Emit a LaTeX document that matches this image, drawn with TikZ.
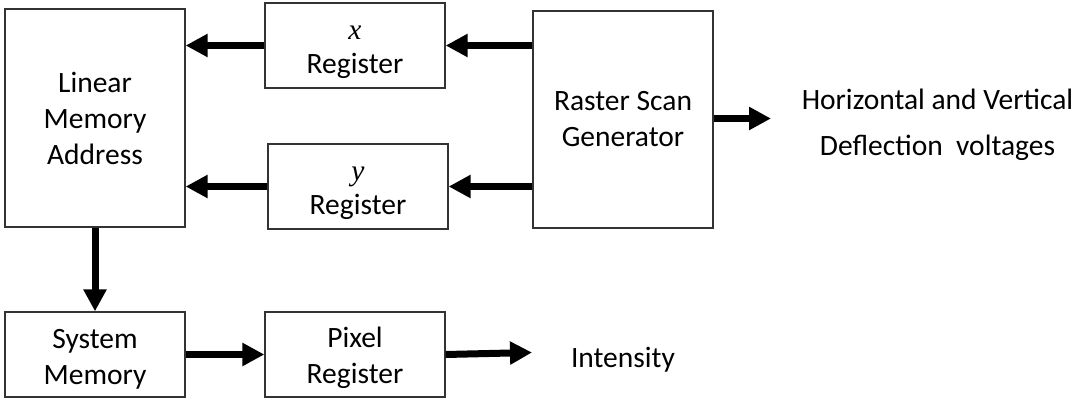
\documentclass[tikz,border=0pt]{standalone}
\usepackage{fontspec}
\setmainfont{Carlito}
\newfontfamily\varfont{Liberation Serif}
\usetikzlibrary{arrows.meta}
\newcommand{\var}[1]{{\varfont\itshape #1}}
\begin{document}
\begin{tikzpicture}[x=1pt,y=1pt,
  blk/.style={draw=black!80, line width=1.3pt, fill=white, rectangle, inner sep=0pt,
    minimum width=180pt, align=center, font=\fontsize{29.5}{36}\selectfont},
  arr/.style={line width=7pt, -{Triangle[length=22pt,width=22pt]}},
  lbl/.style={align=center, inner sep=0pt}]
\useasboundingbox (0,0) rectangle (1077,-402);
\node[blk, minimum height=218pt] (lma) at (95,-118) {Linear\\Memory\\Address};
\node[blk, minimum height=85pt] (xreg) at (355,-45.5) {\rule{0pt}{28pt}\var{x}\\[-2pt]Register};
\node[blk, minimum height=85pt] (yreg) at (358,-186.5) {\rule{0pt}{28pt}\var{y}\\[-2pt]Register};
\node[blk, minimum height=217pt] (raster) at (623,-119.5) {Raster Scan\\Generator};
\node[blk, minimum height=85pt] (sysmem) at (95,-354.5) {\rule{0pt}{28pt}System\\Memory};
\node[blk, minimum height=85pt] (pixreg) at (355,-354.5) {\rule{0pt}{28pt}Pixel\\Register};
\node[lbl, font=\fontsize{29.5}{46}\selectfont] (defl) at (937.5,-125) {Horizontal and Vertical\\Deflection\ \ voltages};
\node[lbl, font=\fontsize{29.5}{36}\selectfont] (inten) at (623,-360) {Intensity};
\coordinate (rasterend) at (771,-118.5);
\coordinate (intenend) at (532,-352.5);
\draw[arr] (raster.west |- xreg.east) -- (xreg.east);
\draw[arr] (xreg.west) -- (lma.east |- xreg.west);
\draw[arr] (raster.west |- yreg.east) -- (yreg.east);
\draw[arr] (yreg.west) -- (lma.east |- yreg.west);
\draw[arr] (lma.south) -- (sysmem.north);
\draw[arr] (sysmem.east) -- (pixreg.west);
\draw[arr] (pixreg.east) -- (intenend);
\draw[arr] (raster.east |- rasterend) -- (rasterend);
\end{tikzpicture}
\end{document}
